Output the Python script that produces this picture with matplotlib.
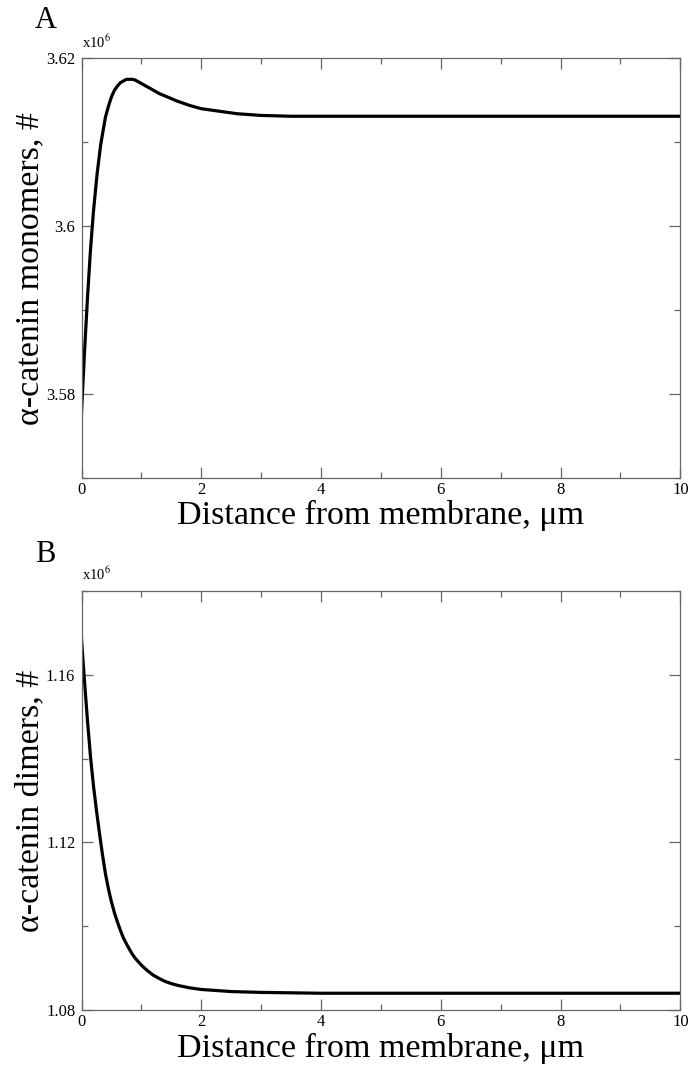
import matplotlib
matplotlib.use("Agg")
import matplotlib.pyplot as plt
from matplotlib.ticker import MultipleLocator, FuncFormatter

# ---- data (values in units of 1e6) ----
mono_x = [0.00, 0.05, 0.10, 0.15, 0.20, 0.26, 0.32, 0.40, 0.45, 0.50, 0.55, 0.60,
          0.65, 0.70, 0.75, 0.80, 0.85, 0.90, 0.95, 1.00, 1.10, 1.20, 1.30, 1.40,
          1.60, 1.80, 2.00, 2.30, 2.60, 3.00, 3.50, 4.00,
          5.0, 6.0, 7.0, 8.0, 9.0, 10.0]
mono_y = [3.5778, 3.5850, 3.5915, 3.5972, 3.6018, 3.6062, 3.6097, 3.6130, 3.6143,
          3.6154, 3.6162, 3.6167, 3.6171, 3.6173, 3.6175, 3.6175, 3.6175, 3.6174,
          3.6172, 3.6170, 3.6166, 3.6162, 3.6158, 3.6155, 3.6149, 3.6144, 3.6140,
          3.6137, 3.6134, 3.6132, 3.6131, 3.6131, 3.6131, 3.6131, 3.6131, 3.6131,
          3.6131, 3.6131]

dimer_x = [0.00, 0.05, 0.10, 0.15, 0.20, 0.25, 0.30, 0.35, 0.40, 0.45, 0.50, 0.55,
           0.60, 0.65, 0.70, 0.75, 0.80, 0.85, 0.90, 0.95, 1.00, 1.10, 1.20, 1.30,
           1.40, 1.50, 1.60, 1.80, 2.00, 2.50, 3.00, 4.00, 5.0, 6.0, 7.0,
           8.0, 9.0, 10.0]
dimer_y = [1.1686, 1.1585, 1.1490, 1.1405, 1.1335, 1.1276, 1.1222, 1.1171, 1.1125,
           1.1089, 1.1058, 1.1032, 1.1010, 1.0990, 1.0972, 1.0958, 1.0945, 1.0933,
           1.0923, 1.0915, 1.0907, 1.0894, 1.0883, 1.0875, 1.0868, 1.0863, 1.0859,
           1.0853, 1.0849, 1.0844, 1.0842, 1.0840, 1.0840, 1.0840, 1.0840, 1.0840,
           1.0840, 1.0840]

xlabel = "Distance from membrane, \u03bcm"
ylabel_a = "\u03b1-catenin monomers, #"
ylabel_b = "\u03b1-catenin dimers, #"

plt.rcParams['font.family'] = ['Liberation Serif', 'DejaVu Serif']
plt.rcParams['mathtext.fontset'] = 'stix'

W, H = 692, 1072
fig = plt.figure(figsize=(W / 100, H / 100), dpi=100)

def px_rect(l, t, r, b):
    return [l / W, 1 - b / H, (r - l) / W, (b - t) / H]

spine_col = '#666666'
fmt = FuncFormatter(lambda v, p: '%g' % round(v, 4))

def style(ax, ymin, ymax, ymaj, ymin_step):
    ax.set_xlim(0, 10)
    ax.set_ylim(ymin, ymax)
    ax.xaxis.set_major_locator(MultipleLocator(2))
    ax.xaxis.set_minor_locator(MultipleLocator(1))
    ax.yaxis.set_major_locator(MultipleLocator(ymaj))
    ax.yaxis.set_minor_locator(MultipleLocator(ymin_step))
    ax.yaxis.set_major_formatter(fmt)
    ax.xaxis.set_major_formatter(fmt)
    for s in ax.spines.values():
        s.set_color(spine_col)
        s.set_linewidth(0.9)
    ax.tick_params(which='both', direction='in', top=True, right=True,
                   color=spine_col, width=0.9, labelsize=12)
    ax.tick_params(which='major', length=8)
    ax.tick_params(which='minor', length=4.5)
    ax.tick_params(axis='x', which='major', pad=3)
    ax.tick_params(axis='y', which='major', pad=4.5)

axA = fig.add_axes(px_rect(81.5, 58.3, 680.3, 478.3))
axA.plot(mono_x, mono_y, color='black', lw=2.3, solid_joinstyle='round')
style(axA, 3.57, 3.62, 0.02, 0.01)

axB = fig.add_axes(px_rect(81.5, 591, 680.3, 1010))
axB.plot(dimer_x, dimer_y, color='black', lw=2.3, solid_joinstyle='round')
style(axB, 1.08, 1.18, 0.04, 0.02)

# exponent labels
fig.text(82 / W, 1 - 48 / H, r'x10$^{6}$', fontsize=10.5, ha='left', va='baseline')
fig.text(82 / W, 1 - 580 / H, r'x10$^{6}$', fontsize=10.5, ha='left', va='baseline')

# panel labels
fig.text(35 / W, 1 - 28 / H, 'A', fontsize=22, ha='left', va='baseline')
fig.text(35 / W, 1 - 562 / H, 'B', fontsize=22, ha='left', va='baseline')

# axis labels
cx = (81.5 + 680.3) / 2 / W
fig.text(cx, 1 - 524 / H, xlabel, fontsize=24.5, ha='center', va='baseline')
fig.text(cx, 1 - 1057 / H, xlabel, fontsize=24.5, ha='center', va='baseline')
fig.text(38 / W, 1 - (58.3 + 478.3) / 2 / H, ylabel_a, fontsize=24.5, rotation=90,
         rotation_mode='anchor', ha='center', va='baseline')
fig.text(38 / W, 1 - (591 + 1010) / 2 / H, ylabel_b, fontsize=24.5, rotation=90,
         rotation_mode='anchor', ha='center', va='baseline')

fig.savefig('out.png', dpi=100)
